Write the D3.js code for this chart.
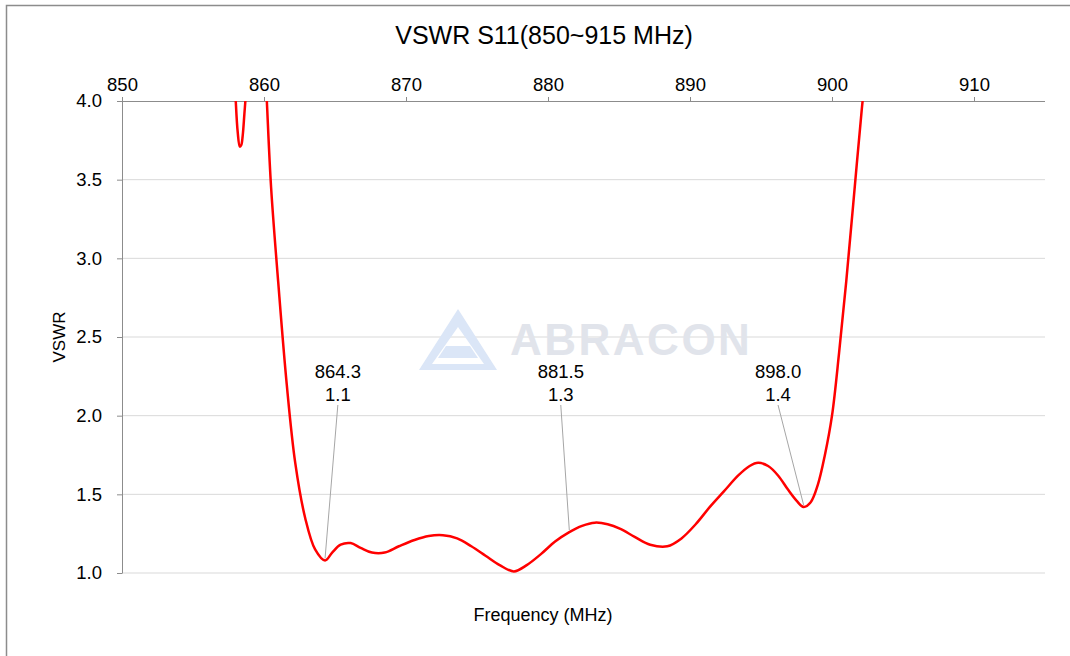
<!DOCTYPE html>
<html>
<head>
<meta charset="utf-8">
<script src="https://cdn.jsdelivr.net/npm/d3@7"></script>
<style>
body { margin: 0; background: #fff; }
text { font-family: "Liberation Sans", Arial, sans-serif; fill: #000; }
</style>
</head>
<body>
<svg width="1070" height="656"></svg>
<script>
var freq = [857.85, 858.0, 858.15, 858.3, 858.4, 858.5, 858.62, 858.75, 858.9, 859.4, 859.9,
            860.2, 860.5, 861.0, 861.6, 862.2, 862.9, 863.6, 864.3, 864.8, 865.4, 866.1, 866.8,
            867.6, 868.5, 869.5, 870.6, 871.6, 872.6, 873.6, 874.6, 875.6, 876.6, 877.6, 878.5,
            879.5, 880.5, 881.5, 882.4, 883.3, 884.2, 885.1, 886.1, 887.2, 888.4, 889.4, 890.4,
            891.4, 892.4, 893.4, 894.2, 894.8, 895.5, 896.2, 896.9, 897.5, 898.0, 898.5, 899.0,
            899.5, 900.0, 900.5, 901.0, 901.5, 902.1, 902.5];
var vswr = [4.35, 4.02, 3.8, 3.71, 3.72, 3.78, 3.92, 4.08, 4.35, 5.0, 4.6,
            4.0, 3.45, 2.85, 2.2, 1.7, 1.35, 1.15, 1.08, 1.13, 1.18, 1.19, 1.16,
            1.13, 1.13, 1.17, 1.21, 1.235, 1.24, 1.22, 1.17, 1.11, 1.05, 1.01, 1.05,
            1.12, 1.2, 1.26, 1.3, 1.32, 1.31, 1.28, 1.23, 1.18, 1.17, 1.22, 1.31,
            1.42, 1.52, 1.62, 1.68, 1.7, 1.68, 1.62, 1.53, 1.46, 1.42, 1.45, 1.56,
            1.75, 2.0, 2.4, 2.85, 3.35, 3.95, 4.3];

var xTicks = [850, 860, 870, 880, 890, 900, 910];
var yTicks = [1.0, 1.5, 2.0, 2.5, 3.0, 3.5, 4.0];

// marker labels: frequency, vswr shown, point on the curve
var markFreq = [864.3, 881.5, 898.0];
var markText = ["1.1", "1.3", "1.4"];
var markVal = [1.08, 1.26, 1.42];
var markLabelFreq = [865.2, 880.9, 896.2];

var svg = d3.select("svg");

var x = d3.scaleLinear().domain([850, 915]).range([122, 1045]);
var y = d3.scaleLinear().domain([1.0, 4.0]).range([573, 101]);

// outer frame (only top and left show)
svg.append("path")
    .attr("d", "M6.5,656 V5.5 H1070")
    .attr("fill", "none")
    .attr("stroke", "#8c8c8c")
    .attr("stroke-width", 1.5);

svg.append("text")
    .attr("x", 544).attr("y", 44)
    .attr("text-anchor", "middle")
    .attr("font-size", 25)
    .text("VSWR S11(850~915 MHz)");

// grid
svg.append("g")
    .selectAll("line")
    .data(yTicks.slice(0, -1))
    .enter().append("line")
    .attr("x1", 122).attr("x2", 1045)
    .attr("y1", d => y(d)).attr("y2", d => y(d))
    .attr("stroke", "#d9d9d9");

// watermark
var wm = svg.append("g");
wm.append("path")
    .attr("d", "M458,309 L497,370 L419,370 Z M458,327 L484,364 L432,364 Z")
    .attr("fill", "#dbe6f7").attr("fill-rule", "evenodd");
wm.append("path")
    .attr("d", "M446,346 L470,346 L478,358 L438,358 Z")
    .attr("fill", "#dbe6f7");
wm.append("text")
    .attr("x", 510).attr("y", 355)
    .attr("font-size", 44)
    .attr("font-weight", "bold")
    .attr("letter-spacing", 2.5)
    .style("fill", "#e1e4eb")
    .text("ABRACON");

// axes
var xAxis = svg.append("g")
    .attr("transform", "translate(0,101)")
    .call(d3.axisTop(x).tickValues(xTicks).tickFormat(d3.format("d")).tickSize(4).tickSizeOuter(0));
xAxis.select(".domain").attr("stroke", "#8c8c8c").attr("d", "M117,0.5H1045");
xAxis.selectAll(".tick line").attr("stroke", "#8c8c8c");
xAxis.selectAll(".tick text").attr("font-size", 18.5).attr("font-family", "Liberation Sans, Arial, sans-serif").attr("fill", "#000").attr("y", -10).attr("dy", "0");

var yAxis = svg.append("g")
    .attr("transform", "translate(122,0)")
    .call(d3.axisLeft(y).tickValues(yTicks).tickFormat(d3.format(".1f")).tickSize(5).tickSizeOuter(0));
yAxis.select(".domain").attr("stroke", "#8c8c8c");
yAxis.selectAll(".tick line").attr("stroke", "#8c8c8c");
yAxis.selectAll(".tick text").attr("font-size", 18.5).attr("font-family", "Liberation Sans, Arial, sans-serif").attr("fill", "#000").attr("x", -20);

svg.append("text")
    .attr("transform", "translate(65,337) rotate(-90)")
    .attr("text-anchor", "middle")
    .attr("font-size", 17)
    .text("VSWR");

svg.append("text")
    .attr("x", 543).attr("y", 621)
    .attr("text-anchor", "middle")
    .attr("font-size", 18)
    .text("Frequency (MHz)");

// curve
svg.append("clipPath").attr("id", "plot")
    .append("rect").attr("x", 122).attr("y", 101).attr("width", 923).attr("height", 480);

var line = d3.line()
    .x((d, i) => x(freq[i]))
    .y((d, i) => y(vswr[i]))
    .curve(d3.curveCatmullRom.alpha(0.5));

svg.append("path")
    .attr("clip-path", "url(#plot)")
    .attr("d", line(freq))
    .attr("fill", "none")
    .attr("stroke", "#ff0000")
    .attr("stroke-width", 2.5);

// marker labels
var marks = svg.append("g").selectAll("g")
    .data(markFreq)
    .enter().append("g");

marks.append("line")
    .attr("x1", (d, i) => x(markLabelFreq[i]))
    .attr("y1", 405)
    .attr("x2", d => x(d))
    .attr("y2", (d, i) => y(markVal[i]) - 2)
    .attr("stroke", "#a6a6a6")
    .attr("stroke-width", 1);

marks.append("text")
    .attr("x", (d, i) => x(markLabelFreq[i]))
    .attr("y", 378)
    .attr("text-anchor", "middle")
    .attr("font-size", 18.5)
    .text(d => d.toFixed(1));

marks.append("text")
    .attr("x", (d, i) => x(markLabelFreq[i]))
    .attr("y", 401)
    .attr("text-anchor", "middle")
    .attr("font-size", 18.5)
    .text((d, i) => markText[i]);
</script>
</body>
</html>
